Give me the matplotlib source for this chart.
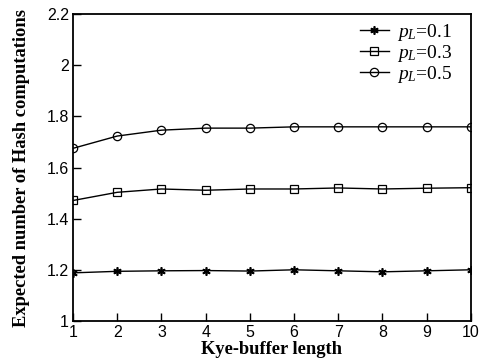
import numpy as np
import matplotlib.pyplot as plt
from matplotlib.ticker import FormatStrFormatter

# data
buffer_len = [1, 2, 3, 4, 5, 6, 7, 8, 9, 10]
p01 = [1.188, 1.194, 1.196, 1.197, 1.195, 1.200, 1.196, 1.192, 1.196, 1.200]
p03 = [1.471, 1.503, 1.516, 1.511, 1.516, 1.516, 1.520, 1.516, 1.519, 1.521]
p05 = [1.675, 1.723, 1.746, 1.754, 1.754, 1.759, 1.759, 1.759, 1.759, 1.759]
labels = [r'$p_L$=0.1', r'$p_L$=0.3', r'$p_L$=0.5']

plt.rcParams['mathtext.fontset'] = 'custom'
plt.rcParams['mathtext.it'] = 'Liberation Serif:italic'
plt.rcParams['mathtext.rm'] = 'Liberation Serif'

fig = plt.figure(figsize=(4.9, 3.61), dpi=100)
ax = fig.add_axes([0.149, 0.111, 0.812, 0.850])

ax.plot(buffer_len, p01, color='black', lw=1, marker=(6, 2, 0), ms=6, mew=1.2, label=labels[0])
ax.plot(buffer_len, p03, color='black', lw=1, marker='s', ms=6, mfc='none', mew=0.9, label=labels[1])
ax.plot(buffer_len, p05, color='black', lw=1, marker='o', ms=6, mfc='none', mew=0.9, label=labels[2])

ax.set_xlim(1, 10)
ax.set_ylim(1, 2.2)
ax.set_xticks(buffer_len)
ax.set_yticks(np.arange(1, 2.21, 0.2))
ax.yaxis.set_major_formatter(FormatStrFormatter('%g'))
ax.tick_params(direction='in', length=6, width=1, labelsize=11.5, pad=3)
for lab in ax.get_xticklabels() + ax.get_yticklabels():
    lab.set_family('Liberation Sans')
for s in ax.spines.values():
    s.set_linewidth(1.3)

ax.set_xlabel('Kye-buffer length', family='Liberation Serif', fontweight='bold', fontsize=13.3, labelpad=1)
ax.set_ylabel('Expected number of Hash computations', family='Liberation Serif', fontweight='bold', fontsize=13.3, labelpad=12)

leg = ax.legend(loc='upper right', frameon=False, prop={'family': 'Liberation Serif', 'size': 14},
                handlelength=1.5, labelspacing=0.0, borderaxespad=0.0, handletextpad=0.4,
                bbox_to_anchor=(0.973, 1.0))

fig.savefig('out.png', dpi=100)
